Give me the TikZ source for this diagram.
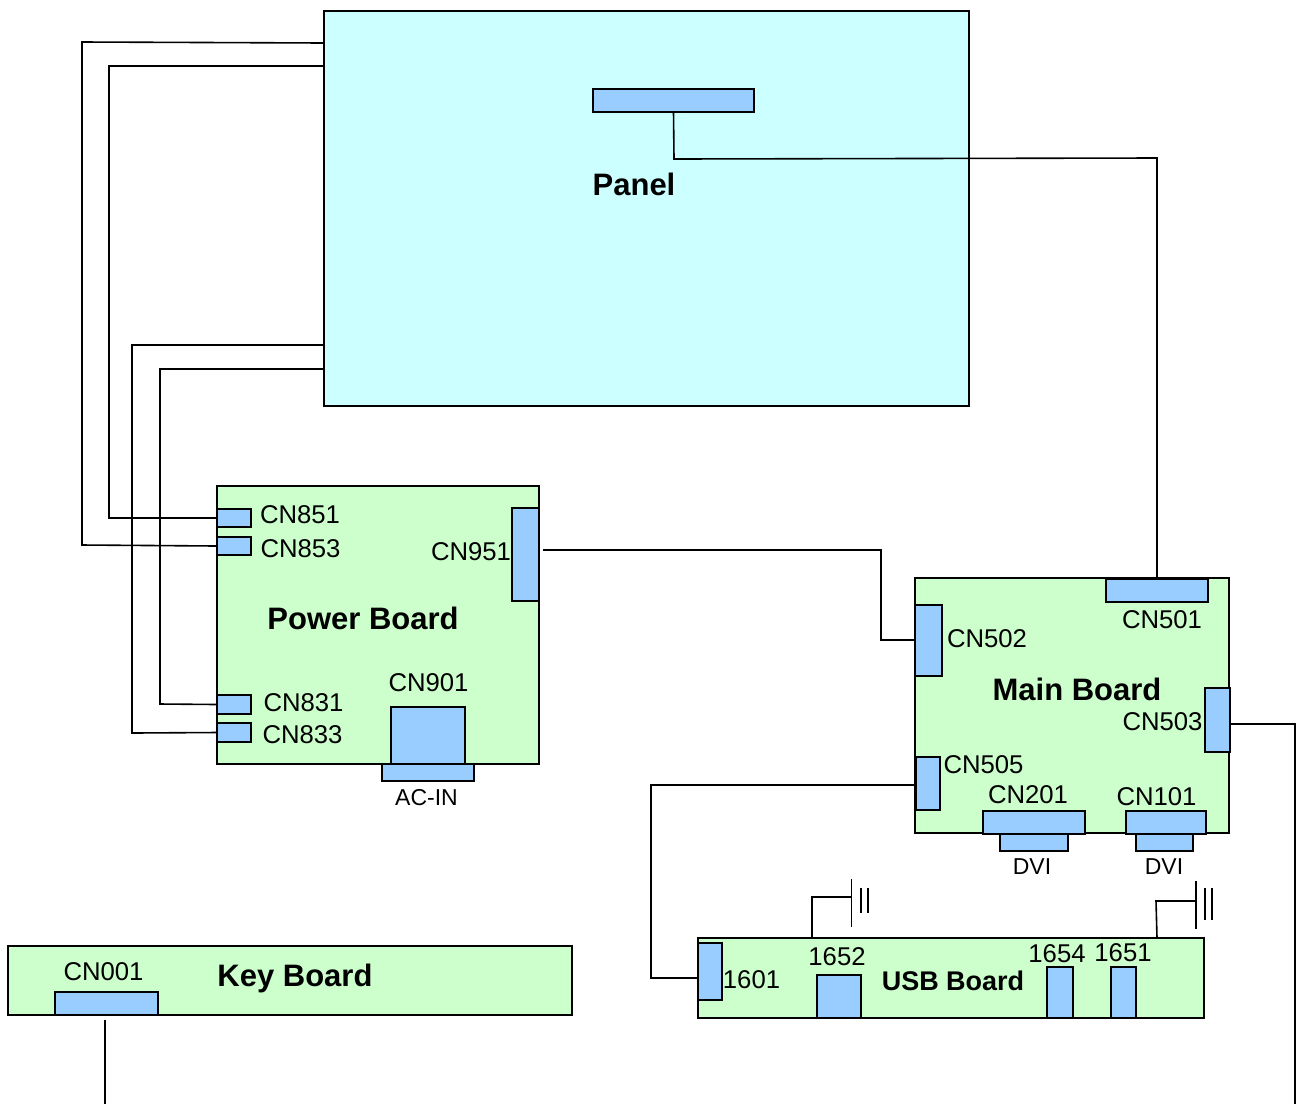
\documentclass[tikz,border=0pt]{standalone}
\usepackage{fontspec}
\setmainfont{Liberation Sans}
\definecolor{panelcyan}{HTML}{CCFFFF}
\definecolor{boardgreen}{HTML}{CCFFCC}
\definecolor{connblue}{HTML}{99CCFF}
\begin{document}
\begin{tikzpicture}[x=1pt,y=-1pt,line join=miter,
    box/.style={draw=black,line width=1.8pt,rectangle,inner sep=0pt,outer sep=0pt},
    board/.style={box,fill=boardgreen},
    conn/.style={box,fill=connblue},
    thickconn/.style={conn,line width=2.6pt,minimum width=34pt},
    wire/.style={draw=black,line width=1.6pt},
    lbl/.style={inner sep=0pt,yshift=-1pt,font=\fontsize{25.7}{28}\selectfont},
    smalllbl/.style={inner sep=0pt,yshift=-1pt,font=\fontsize{23}{26}\selectfont},
    title/.style={inner sep=0pt,font=\fontsize{31}{34}\selectfont\bfseries}]
    \useasboundingbox (0,0) rectangle (1297,1104);
    % boards
    \node[box,fill=panelcyan,minimum width=645pt,minimum height=395pt] (Panel) at (646.5,208.5) {};
    \node[board,minimum width=322pt,minimum height=278pt] (Power) at (378,625) {};
    \node[board,minimum width=314pt,minimum height=255pt] (Main) at (1072,705.5) {};
    \node[board,minimum width=506pt,minimum height=80pt] (USB) at (951,978) {};
    \node[board,minimum width=564pt,minimum height=69pt] (Key) at (290,980.5) {};
    % connectors on the boards
    \node[conn,minimum width=161pt,minimum height=23pt] (PanelCN) at (673.5,100.5) {};
    \node[thickconn,minimum height=18pt] (CN851) at (234,518) {};
    \node[thickconn,minimum height=18pt] (CN853) at (234,546) {};
    \node[thickconn,minimum height=19pt] (CN831) at (234,704.5) {};
    \node[thickconn,minimum height=19pt] (CN833) at (234,732.5) {};
    \node[conn,minimum width=27pt,minimum height=93pt] (CN951) at (525.5,554.5) {};
    \node[conn,minimum width=74pt,minimum height=57pt] (CN901) at (428,735.5) {};
    \node[conn,minimum width=92pt,minimum height=17pt] (ACIN) at (428,772.5) {};
    \node[conn,minimum width=102pt,minimum height=23pt] (CN501) at (1157,590.5) {};
    \node[conn,minimum width=27pt,minimum height=71pt] (CN502) at (928.5,640.5) {};
    \node[conn,minimum width=25pt,minimum height=64pt] (CN503) at (1217.5,720) {};
    \node[conn,minimum width=24pt,minimum height=53pt] (CN505) at (928,783.5) {};
    \node[conn,minimum width=102pt,minimum height=23pt] (CN201) at (1034,822.5) {};
    \node[conn,minimum width=68pt,minimum height=17pt] (DVIa) at (1034,842.5) {};
    \node[conn,minimum width=80pt,minimum height=23pt] (CN101) at (1166,822.5) {};
    \node[conn,minimum width=57pt,minimum height=17pt] (DVIb) at (1164.5,842.5) {};
    \node[conn,minimum width=24pt,minimum height=57pt] (U1601) at (710,971.5) {};
    \node[conn,minimum width=44pt,minimum height=43pt] (U1652) at (839,996.5) {};
    \node[conn,minimum width=26pt,minimum height=51pt] (U1654) at (1060,992.5) {};
    \node[conn,minimum width=25pt,minimum height=51pt] (U1651) at (1123.5,992.5) {};
    \node[conn,minimum width=103pt,minimum height=23pt] (CN001) at (106.5,1003.5) {};
    % free ends of the wires
    \coordinate (P1) at (324,43);
    \coordinate (P2) at (324,66);
    \coordinate (P3) at (324,345);
    \coordinate (P4) at (324,369);
    \coordinate (A1) at (82,42);
    \coordinate (A2) at (82,545);
    \coordinate (B1) at (109,66);
    \coordinate (B2) at (109,518);
    \coordinate (C1) at (132,345);
    \coordinate (C2) at (132,733);
    \coordinate (D1) at (160,369);
    \coordinate (D2) at (160,704);
    \coordinate (E1) at (674,159);
    \coordinate (E2) at (1157,158);
    \coordinate (F0) at (543,550);
    \coordinate (F1) at (881,550);
    \coordinate (F2) at (881,640);
    \coordinate (G1) at (1295,724);
    \coordinate (G2) at (1295,1104);
    \coordinate (H1) at (651,785);
    \coordinate (H2) at (651,978);
    \coordinate (K0) at (105,1020);
    \coordinate (K1) at (105,1104);
    \coordinate (M0) at (812,938);
    \coordinate (M1) at (812,897);
    \coordinate (M2) at (851,897);
    \coordinate (N0) at (1157,938);
    \coordinate (N1) at (1156,901);
    \coordinate (N2) at (1196,901);
    % wires
    \draw[wire] (P1)--(A1)--(A2)--(CN853.west);
    \draw[wire] (P2)--(B1)--(B2)--(CN851.west);
    \draw[wire] (P3)--(C1)--(C2)--(CN833.west);
    \draw[wire] (P4)--(D1)--(D2)--(CN831.west);
    \draw[wire] (PanelCN.south)--(E1)--(E2)--(CN501.north-|E2);
    \draw[wire] (F0)--(F1)--(F2)--(CN502.west|-F2);
    \draw[wire] (CN503.east|-G1)--(G1)--(G2);
    \draw[wire] (CN505.west|-H1)--(H1)--(H2)--(U1601.west|-H2);
    \draw[wire] (K0)--(K1);
    % ground symbols
    \draw[wire] (M0)--(M1)--(M2);
    \draw[wire,line width=1.2pt] (851.5,879)--(851.5,927) (861,888)--(861,913) (868,888)--(868,913);
    \draw[wire] (N0)--(N1)--(N2);
    \draw[wire,line width=1.2pt] (1196,881)--(1196,929) (1205,888)--(1205,920) (1212,888)--(1212,920);
    % labels
    \node[title] (tPanel) at (634,184) {Panel};
    \node[title] (tPower) at (363,618) {Power Board};
    \node[title] (tMain) at (1077,689) {Main Board};
    \node[title] (tKey) at (295,978) {Key Board};
    \node[title,font=\fontsize{27}{30}\selectfont\bfseries] (tUSB) at (953,981) {USB Board};
    \node[lbl] (lCN851) at (300,514) {CN851};
    \node[lbl] (lCN853) at (300.5,548) {CN853};
    \node[lbl] (lCN951) at (471,551) {CN951};
    \node[lbl] (lCN831) at (303.5,702) {CN831};
    \node[lbl] (lCN833) at (302.5,734) {CN833};
    \node[lbl] (lCN901) at (428.5,682) {CN901};
    \node[smalllbl] (lACIN) at (426.5,797) {AC-IN};
    \node[lbl] (lCN501) at (1162,619) {CN501};
    \node[lbl] (lCN502) at (987,638) {CN502};
    \node[lbl] (lCN503) at (1162.5,721) {CN503};
    \node[lbl] (lCN505) at (983.5,764) {CN505};
    \node[lbl] (lCN201) at (1028,794) {CN201};
    \node[lbl] (lCN101) at (1156.5,796) {CN101};
    \node[smalllbl] (lDVIa) at (1032,866) {DVI};
    \node[smalllbl] (lDVIb) at (1164,866) {DVI};
    \node[lbl] (l1601) at (751.5,979) {1601};
    \node[lbl] (l1652) at (837,956) {1652};
    \node[lbl] (l1654) at (1057,953) {1654};
    \node[lbl] (l1651) at (1123,952) {1651};
    \node[lbl] (lCN001) at (103.5,971) {CN001};
\end{tikzpicture}
\end{document}
